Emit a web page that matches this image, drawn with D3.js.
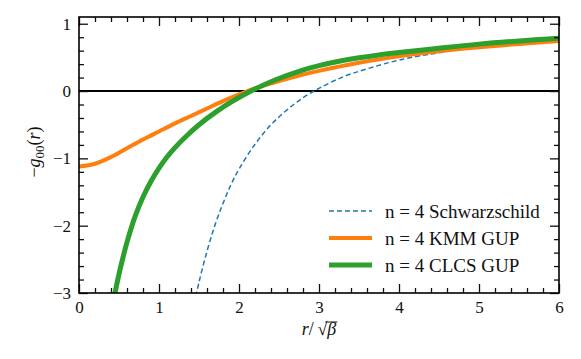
<!DOCTYPE html>
<html>
<head>
<meta charset="utf-8">
<script src="https://cdn.jsdelivr.net/npm/d3@7"></script>
<style>
  body { margin: 0; background: #fff; }
</style>
</head>
<body>
<svg id="chart" width="581" height="359"></svg>
<script>
// values
const schwR = [1.44, 1.5, 1.6, 1.7, 1.8, 1.9, 2.0, 2.2, 2.4, 2.6, 2.8, 3.0, 3.3, 3.6, 4.0, 4.5, 5.0, 5.5, 6.0];
const schwG = [-3.17, -2.84, -2.38, -1.99, -1.67, -1.39, -1.16, -0.79, -0.5, -0.28, -0.1, 0.04, 0.21, 0.33, 0.46, 0.57, 0.65, 0.71, 0.76];

const kmmR = [0, 0.2, 0.4, 0.6, 0.8, 1.0, 1.2, 1.4, 1.6, 1.8, 2.0, 2.2, 2.45, 2.75, 3.0, 3.5, 4.0, 4.5, 5.0, 5.5, 6.0];
const kmmG = [-1.12, -1.08, -0.98, -0.85, -0.72, -0.6, -0.48, -0.37, -0.26, -0.15, -0.05, 0.04, 0.13, 0.23, 0.3, 0.42, 0.515, 0.59, 0.65, 0.7, 0.745];

const clcsR = [0.42, 0.45, 0.5, 0.55, 0.6, 0.65, 0.7, 0.8, 0.9, 1.0, 1.1, 1.2, 1.35, 1.5, 1.7, 1.9, 2.15, 2.45, 2.75, 3.0, 3.25, 3.5, 3.75, 4.0, 4.5, 5.0, 5.5, 6.0];
const clcsG = [-3.2, -3.0, -2.72, -2.47, -2.245, -2.045, -1.865, -1.575, -1.34, -1.145, -0.98, -0.84, -0.66, -0.5, -0.32, -0.166, 0.0, 0.165, 0.294, 0.377, 0.442, 0.494, 0.537, 0.572, 0.637, 0.697, 0.745, 0.785];

const xTicks = [0, 1, 2, 3, 4, 5, 6];
const yTicks = [-3, -2, -1, 0, 1];
const legendLabels = ["n = 4 Schwarzschild", "n = 4 KMM GUP", "n = 4 CLCS GUP"];

const col = { blue: "#1f77b4", orange: "#ff7f0e", green: "#2ca02c" };
const serif = "'Liberation Serif', 'Times New Roman', serif";

const svg = d3.select("#chart");
const margin = { top: 17, right: 22, bottom: 66, left: 79 };
const width = +svg.attr("width") - margin.left - margin.right;
const height = +svg.attr("height") - margin.top - margin.bottom;

const g = svg.append("g").attr("transform", `translate(${margin.left},${margin.top})`);

const x = d3.scaleLinear().domain([0, 6]).range([0, width]);
const y = d3.scaleLinear().domain([-3, 1.1]).range([height, 0]);

g.append("clipPath").attr("id", "clip")
  .append("rect").attr("width", width).attr("height", height);

// zero line
g.append("line")
  .attr("x1", 0).attr("x2", width)
  .attr("y1", y(0)).attr("y2", y(0))
  .attr("stroke", "#000").attr("stroke-width", 2);

const line = d3.line().curve(d3.curveCatmullRom.alpha(0.5));
const series = [
  { r: schwR, v: schwG, color: col.blue, w: 1.5, dash: "5 3" },
  { r: kmmR, v: kmmG, color: col.orange, w: 4, dash: null },
  { r: clcsR, v: clcsG, color: col.green, w: 5, dash: null },
];

const curves = g.append("g").attr("clip-path", "url(#clip)");
series.forEach((s) => {
  curves.append("path")
    .attr("d", line(s.r.map((r, i) => [x(r), y(s.v[i])])))
    .attr("fill", "none")
    .attr("stroke", s.color)
    .attr("stroke-width", s.w)
    .attr("stroke-dasharray", s.dash);
});

// ticks, inward on all four sides
const majorLen = 9, minorLen = 5;
const xMinor = d3.range(0, 6.001, 0.2).filter((v) => Math.abs(v - Math.round(v)) > 1e-6);
const yMinor = d3.range(-3, 1.101, 0.2).filter((v) => Math.abs(v - Math.round(v)) > 1e-6);

g.append("g").attr("transform", `translate(0,${height})`)
  .call(d3.axisBottom(x).tickValues(xMinor).tickSize(-minorLen).tickFormat(""));
g.append("g").attr("class", "lab").attr("transform", `translate(0,${height})`)
  .call(d3.axisBottom(x).tickValues(xTicks).tickSize(-majorLen).tickPadding(8).tickFormat(d3.format("d")));
g.append("g")
  .call(d3.axisTop(x).tickValues(xMinor).tickSize(-minorLen).tickFormat(""));
g.append("g")
  .call(d3.axisTop(x).tickValues(xTicks).tickSize(-majorLen).tickFormat(""));

g.append("g")
  .call(d3.axisLeft(y).tickValues(yMinor).tickSize(-minorLen).tickFormat(""));
g.append("g").attr("class", "lab")
  .call(d3.axisLeft(y).tickValues(yTicks).tickSize(-majorLen).tickPadding(8)
    .tickFormat((d) => (d < 0 ? "\u2212" + Math.abs(d) : d)));
g.append("g").attr("transform", `translate(${width},0)`)
  .call(d3.axisRight(y).tickValues(yMinor).tickSize(-minorLen).tickFormat(""));
g.append("g").attr("transform", `translate(${width},0)`)
  .call(d3.axisRight(y).tickValues(yTicks).tickSize(-majorLen).tickFormat(""));

g.selectAll(".domain").remove();
g.selectAll(".tick line").attr("stroke", "#111").attr("stroke-width", 1.3);
g.selectAll("g.lab")
  .attr("font-family", serif)
  .attr("font-size", 17);
g.selectAll("g.lab .tick text")
  .style("font-family", serif)
  .style("font-size", "17px")
  .attr("fill", "#111");

// frame
g.append("rect")
  .attr("width", width).attr("height", height)
  .attr("fill", "none").attr("stroke", "#000").attr("stroke-width", 1.6);

// axis labels
const xl = svg.append("text")
  .attr("x", margin.left + width / 2)
  .attr("y", margin.top + height + 42)
  .attr("text-anchor", "middle")
  .style("font-family", serif)
  .style("font-size", "18px")
  .attr("fill", "#111");
xl.append("tspan").style("font-style", "italic").text("r");
xl.append("tspan").text("/\u2009\u221A");
xl.append("tspan").style("font-style", "italic").text("\u03B2");
// overline of the root
const xlBox = xl.node().getBBox();
svg.append("line")
  .attr("x1", xlBox.x + xlBox.width - 11).attr("x2", xlBox.x + xlBox.width + 1)
  .attr("y1", xlBox.y + 3).attr("y2", xlBox.y + 3)
  .attr("stroke", "#111").attr("stroke-width", 1);

const yl = svg.append("text")
  .attr("transform", `translate(40,${margin.top + height / 2 - 3}) rotate(-90)`)
  .attr("text-anchor", "middle")
  .style("font-family", serif)
  .style("font-size", "18px")
  .attr("fill", "#111");
yl.append("tspan").text("\u2212");
yl.append("tspan").style("font-style", "italic").text("g");
yl.append("tspan").attr("dy", 4).style("font-size", "13px").text("00");
yl.append("tspan").attr("dy", -4).text("(");
yl.append("tspan").style("font-style", "italic").text("r");
yl.append("tspan").text(")");

// legend
const legend = svg.append("g").attr("transform", "translate(329,211)");
series.forEach((s, i) => {
  const row = legend.append("g").attr("transform", `translate(0,${i * 27})`);
  row.append("line")
    .attr("x1", 0).attr("x2", 43)
    .attr("stroke", s.color)
    .attr("stroke-width", s.w)
    .attr("stroke-dasharray", s.dash);
  row.append("text")
    .attr("x", 56).attr("dy", "0.35em")
    .style("font-family", serif)
    .style("font-size", "19px")
    .attr("fill", "#111")
    .text(legendLabels[i]);
});
</script>
</body>
</html>
